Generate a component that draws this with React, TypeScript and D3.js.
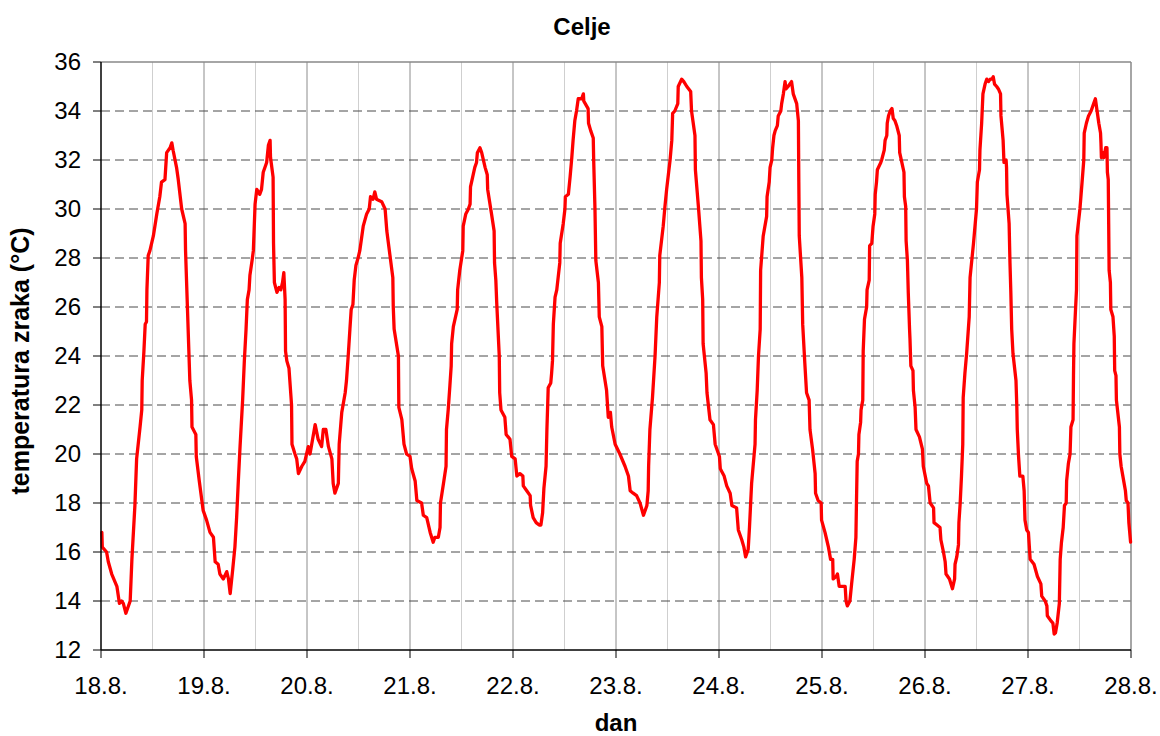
import React from "react";
import * as d3 from "d3";

// hours since 18.8. 00:00, temperature in °C
const day18: [number, number][] = [[0.2,16.8],[0.3,16.2],[1.3,16.0],[1.7,15.6],[2.5,15.1],[3.7,14.6],[4.3,13.9],[4.8,14.0],[5.2,13.9],[5.8,13.5],[6.8,14.0],[7.2,15.7],[7.9,17.9],[8.3,19.8],[9.1,21.1],[9.5,21.8],[9.6,23.0],[10.0,24.2],[10.3,25.3],[10.6,25.4],[10.7,26.7],[11.0,28.1],[11.4,28.3],[12.2,28.9],[13.0,29.8],[13.7,30.5],[14.1,31.1],[14.9,31.2],[15.3,32.3],[16.1,32.5],[16.5,32.7],[16.8,32.4],[17.6,31.7],[18.0,31.2],[18.8,30.0],[19.6,29.4],[19.7,28.3],[20.7,23.0],[21.1,22.2],[21.2,21.1],[22.1,20.8],[22.2,19.9],[22.9,18.9],[23.8,17.7]];
const day19: [number, number][] = [[24.6,17.3],[25.4,16.8],[26.2,16.6],[26.6,15.6],[27.3,15.5],[27.7,15.1],[28.5,14.9],[29.3,15.2],[29.7,14.9],[30.1,14.3],[30.7,15.3],[31.2,16.2],[31.6,17.4],[32.0,18.9],[32.4,20.3],[33.0,22.2],[33.2,23.0],[33.4,23.8],[33.8,25.1],[34.1,26.3],[34.5,26.7],[34.7,27.3],[35.2,27.9],[35.5,28.3],[35.9,30.2],[36.3,30.8],[37.0,30.6],[37.4,30.8],[37.8,31.5],[38.6,31.9],[39.0,32.6],[39.4,32.8],[39.5,32.1],[40.1,31.3],[40.2,28.6],[40.4,27.0],[41.0,26.6],[41.5,26.8],[41.9,26.7],[42.3,27.0],[42.6,27.4],[42.9,26.3],[43.0,24.2],[43.3,23.8],[43.8,23.5],[44.0,23.0],[44.4,22.0],[44.5,20.4],[45.2,20.0],[45.6,19.8],[46.0,19.2],[46.8,19.5],[47.5,19.7]];
const day20: [number, number][] = [[48.3,20.3],[48.7,20.0],[49.1,20.4],[49.9,21.2],[50.6,20.6],[51.4,20.3],[51.8,21.0],[52.4,21.0],[53.0,20.3],[53.8,19.8],[54.1,18.8],[54.5,18.4],[55.3,18.8],[55.5,20.4],[56.1,21.7],[56.9,22.5],[57.2,23.0],[57.6,24.0],[58.0,25.1],[58.3,25.9],[58.7,26.1],[59.0,27.1],[59.4,27.7],[59.9,28.0],[60.3,28.3],[61.1,29.3],[61.9,29.8],[62.5,30.0],[62.8,30.5],[63.4,30.4],[63.8,30.7],[64.2,30.4],[65.4,30.3],[66.2,30.0],[66.6,29.1],[68.0,27.2],[68.1,26.0],[68.3,25.1],[69.3,24.0],[69.4,21.9],[70.1,21.4],[70.6,20.4],[71.2,20.0]];
const day21: [number, number][] = [[72.0,19.9],[72.4,19.4],[73.2,18.9],[73.6,18.1],[74.7,18.0],[75.1,17.5],[75.9,17.4],[76.7,16.8],[77.4,16.4],[77.8,16.6],[78.6,16.6],[79.0,17.0],[79.1,18.0],[79.8,18.8],[80.4,19.5],[80.5,21.0],[80.9,21.8],[81.3,22.8],[81.6,23.6],[81.7,24.5],[82.1,25.2],[83.0,25.9],[83.1,26.7],[83.6,27.5],[84.3,28.3],[84.4,29.3],[85.0,29.8],[85.6,30.0],[86.0,30.2],[86.1,30.9],[86.6,31.3],[87.1,31.7],[87.5,31.9],[87.7,32.3],[88.3,32.5],[88.7,32.3],[89.5,31.7],[90.0,31.4],[90.1,30.8],[91.0,29.8],[91.6,29.1],[91.7,27.8],[92.0,27.1],[92.2,26.2],[92.8,24.0],[92.9,22.5],[93.2,21.8],[94.1,21.5],[94.4,20.8],[95.3,20.6],[95.7,19.9]];
const day22: [number, number][] = [[96.5,19.8],[96.9,19.1],[97.6,19.2],[98.3,19.1],[98.4,18.7],[99.2,18.5],[100.0,18.3],[100.1,17.9],[100.7,17.4],[101.4,17.2],[102.1,17.1],[102.5,17.1],[102.9,17.6],[103.2,18.6],[103.7,19.5],[103.9,21.0],[104.1,22.1],[104.2,22.7],[104.8,22.9],[105.0,23.3],[105.2,23.8],[105.4,25.3],[105.8,26.4],[106.2,26.7],[106.9,27.8],[107.0,28.6],[107.7,29.4],[108.1,30.0],[108.2,30.5],[108.9,30.6],[109.3,31.3],[109.7,32.1],[110.0,32.8],[110.4,33.6],[110.8,34.0],[111.2,34.5],[112.0,34.5],[112.4,34.7],[112.5,34.4],[113.5,34.1],[113.6,33.5],[114.1,33.2],[114.7,32.9],[114.8,32.0],[115.1,30.0],[115.3,27.9],[115.9,27.0],[116.1,25.6],[116.7,25.2],[116.9,23.6],[117.8,22.6],[118.2,21.5],[118.7,21.7],[119.0,21.1],[119.8,20.4]];
const day23: [number, number][] = [[120.9,20.0],[122.1,19.5],[122.9,19.1],[123.3,18.5],[124.0,18.4],[124.8,18.3],[125.6,18.0],[126.4,17.5],[127.2,17.9],[127.5,18.5],[127.6,19.5],[127.9,21.0],[128.5,22.3],[129.1,24.0],[129.5,25.6],[130.1,27.0],[130.2,28.1],[131.0,29.3],[131.4,30.1],[131.8,30.8],[132.6,32.0],[133.0,32.8],[133.2,33.9],[133.7,34.0],[134.4,34.3],[134.5,35.0],[135.3,35.3],[135.8,35.2],[136.5,35.0],[137.4,34.8],[137.6,34.0],[138.4,33.0],[138.5,31.6],[139.2,30.1],[139.8,28.7],[139.9,27.2],[140.2,26.3],[140.3,24.5],[141.0,23.3],[141.2,22.5],[141.9,21.4],[142.7,21.2],[143.1,20.4]];
const day24: [number, number][] = [[144.1,19.9],[144.3,19.4],[145.2,19.1],[145.8,18.7],[146.6,18.4],[147.0,17.9],[148.1,17.8],[148.5,16.9],[149.3,16.5],[149.8,16.2],[150.2,15.8],[150.8,16.1],[151.1,17.0],[151.6,18.8],[152.4,20.4],[152.5,21.4],[152.9,22.6],[153.2,24.0],[153.6,25.1],[153.7,27.5],[154.3,28.9],[155.1,29.7],[155.2,30.5],[155.7,31.1],[155.9,31.7],[156.3,32.0],[156.5,32.5],[156.8,33.0],[157.1,33.2],[157.6,33.4],[157.8,33.8],[158.4,34.0],[158.6,34.3],[159.0,34.7],[159.4,35.2],[159.6,34.9],[160.1,35.0],[160.9,35.2],[161.3,34.7],[162.1,34.3],[162.5,33.6],[162.6,31.1],[162.7,28.9],[163.3,27.2],[163.5,25.3],[164.0,23.7],[164.4,22.5],[165.0,22.2],[165.2,21.0],[165.8,20.2],[166.4,19.2],[166.5,18.4],[167.1,18.1],[167.8,18.0],[167.9,17.3]];
const day25: [number, number][] = [[168.7,16.8],[169.1,16.5],[169.5,16.2],[170.0,15.7],[170.5,15.7],[170.6,14.9],[171.3,15.0],[171.6,15.1],[172.0,14.6],[173.4,14.6],[173.6,14.0],[173.9,13.8],[174.5,14.0],[174.9,14.7],[175.5,15.7],[175.9,16.6],[176.0,17.7],[176.2,19.7],[176.5,20.0],[176.6,20.8],[177.0,21.3],[177.1,21.8],[177.5,22.2],[177.6,24.2],[177.9,25.5],[178.4,26.0],[178.5,26.7],[179.0,27.1],[179.1,28.5],[179.6,28.6],[179.9,29.3],[180.3,29.8],[180.4,30.6],[180.7,31.1],[180.9,31.6],[181.7,31.9],[181.9,32.0],[182.5,32.4],[182.7,32.8],[183.1,33.0],[183.2,33.5],[183.5,33.8],[183.9,34.0],[184.3,34.1],[184.6,33.7],[185.0,33.6],[185.4,33.4],[186.0,33.0],[186.1,32.3],[186.6,31.9],[187.1,31.5],[187.2,30.5],[187.5,30.1],[187.6,28.7],[187.9,27.9],[188.1,26.6],[188.4,25.1],[188.5,24.7],[188.7,23.6],[189.2,23.4],[189.3,22.6],[189.7,21.9],[189.9,21.0],[190.7,20.7],[191.4,20.2],[191.6,19.5]];
const day26: [number, number][] = [[192.4,18.8],[192.8,18.7],[193.2,18.0],[194.0,17.8],[194.1,17.2],[194.8,17.1],[195.5,17.0],[195.7,16.5],[196.3,16.0],[196.7,15.6],[196.9,15.1],[197.7,14.9],[198.4,14.5],[198.9,14.9],[199.0,15.5],[199.4,15.8],[199.8,16.3],[199.9,17.2],[200.2,18.0],[200.5,19.1],[200.8,20.4],[200.9,22.3],[201.3,23.3],[201.7,24.1],[202.1,25.1],[202.3,25.6],[202.5,27.2],[203.3,28.6],[204.0,30.0],[204.2,31.1],[204.7,31.6],[204.8,32.4],[205.2,33.5],[205.5,34.7],[206.0,35.1],[206.4,35.3],[206.8,35.2],[207.2,35.3],[207.6,35.3],[207.9,35.4],[208.2,35.1],[208.7,35.0],[209.1,34.9],[209.6,34.7],[209.7,33.8],[210.2,32.8],[210.4,31.9],[210.9,32.0],[211.0,31.7],[211.1,30.6],[211.6,29.4],[211.8,27.8],[212.0,26.6],[212.2,25.1],[212.5,24.1],[213.2,23.0],[213.4,21.9],[213.5,21.0],[213.8,19.9],[214.1,19.1],[214.8,19.1],[215.1,18.5],[215.3,17.3],[215.7,16.9]];
const day27: [number, number][] = [[216.1,16.8],[216.5,15.7],[217.4,15.5],[218.2,15.0],[219.0,14.7],[219.2,14.2],[220.0,14.0],[220.4,13.8],[220.5,13.4],[221.3,13.2],[221.8,13.1],[222.1,12.65],[222.4,12.7],[222.8,13.1],[223.3,13.9],[223.5,15.7],[223.8,16.4],[224.2,17.0],[224.5,17.9],[224.9,18.0],[225.0,18.9],[225.4,19.6],[225.8,20.0],[226.0,21.1],[226.5,21.4],[226.6,23.2],[226.7,24.5],[227.1,26.0],[227.3,26.7],[227.4,28.9],[228.1,30.0],[228.6,31.1],[229.0,32.0],[229.1,33.1],[229.6,33.5],[230.1,33.8],[230.7,34.0],[231.3,34.3],[231.7,34.5],[232.1,34.0],[232.5,33.5],[232.9,33.1],[233.0,32.7],[233.1,32.1],[233.6,32.3],[233.7,32.1],[234.1,32.5],[234.4,32.5],[234.5,31.5],[234.7,31.2],[234.8,29.4],[234.9,27.5],[235.2,27.0],[235.3,25.9],[235.8,25.6],[236.1,24.8],[236.2,23.4],[236.5,23.2],[236.6,22.2],[237.3,21.1],[237.4,20.0],[237.7,19.5],[238.4,18.8],[238.7,18.5],[238.9,18.1],[239.3,18.0],[239.5,17.2],[239.7,16.8],[239.9,16.4]];

const dayLabels = ["18.8.", "19.8.", "20.8.", "21.8.", "22.8.", "23.8.", "24.8.", "25.8.", "26.8.", "27.8.", "28.8."];
const yTicks = [12, 14, 16, 18, 20, 22, 24, 26, 28, 30, 32, 34, 36];

const title = "Celje";
const xTitle = "dan";
const yTitle = "temperatura zraka (°C)";

const W = 1160, H = 736;
const L = 101, R = 1131, T = 62, B = 650;
const FONT = "'Liberation Sans', Arial, Helvetica, sans-serif";

export default function App() {
  const data = [...day18, ...day19, ...day20, ...day21, ...day22, ...day23, ...day24, ...day25, ...day26, ...day27];
  const x = d3.scaleLinear().domain([0, 240]).range([L, R]);
  const y = d3.scaleLinear().domain([12, 36]).range([B, T]);
  const line = d3.line<[number, number]>().x(d => x(d[0])).y(d => y(d[1]));
  const dayHours = dayLabels.map((_, i) => i * 24);
  const halfHours = d3.range(0, 10).map(i => i * 24 + 12);

  return (
    <svg width={W} height={H} style={{ position: "absolute", left: 0, top: 0, background: "#fff" }} fontFamily={FONT}>
      <rect x={0} y={0} width={W} height={H} fill="#fff" />
      {halfHours.map(h => (
        <line key={"hh" + h} x1={x(h)} x2={x(h)} y1={T} y2={B} stroke="#cfcfcf" strokeWidth={1} />
      ))}
      {dayHours.slice(1, -1).map(h => (
        <line key={"dh" + h} x1={x(h)} x2={x(h)} y1={T} y2={B} stroke="#8c8c8c" strokeWidth={1} />
      ))}
      {yTicks.slice(1, -1).map(v => (
        <line key={"hg" + v} x1={L} x2={R} y1={y(v)} y2={y(v)} stroke="#4a4a4a" strokeWidth={1} strokeDasharray="9,5" />
      ))}
      <line x1={L} x2={R} y1={T} y2={T} stroke="#888" strokeWidth={1.5} />
      <line x1={R} x2={R} y1={T} y2={B} stroke="#888" strokeWidth={1.5} />
      <path d={line(data) || ""} fill="none" stroke="#ff0000" strokeWidth={3.3} strokeLinejoin="round" strokeLinecap="round" />
      <line x1={L} x2={L} y1={T} y2={B} stroke="#000" strokeWidth={1.5} />
      <line x1={L} x2={R} y1={B} y2={B} stroke="#000" strokeWidth={1.5} />
      {yTicks.map(v => (
        <g key={"yt" + v}>
          <line x1={L - 8} x2={L} y1={y(v)} y2={y(v)} stroke="#000" strokeWidth={1} />
          <text x={81} y={y(v)} dy="0.35em" textAnchor="end" fontSize={24} fill="#000">{v}</text>
        </g>
      ))}
      {dayHours.map((h, i) => (
        <g key={"xt" + h}>
          <line x1={x(h)} x2={x(h)} y1={B} y2={B + 8} stroke="#000" strokeWidth={1} />
          <text x={x(h)} y={694} textAnchor="middle" fontSize={24} fill="#000">{dayLabels[i]}</text>
        </g>
      ))}
      <text x={582} y={35} textAnchor="middle" fontSize={24} fontWeight="bold" fill="#000">{title}</text>
      <text x={(L + R) / 2} y={731} textAnchor="middle" fontSize={24} fontWeight="bold" fill="#000">{xTitle}</text>
      <text transform={`translate(29,361) rotate(-90)`} textAnchor="middle" fontSize={25} fontWeight="bold" fill="#000">{yTitle}</text>
    </svg>
  );
}
